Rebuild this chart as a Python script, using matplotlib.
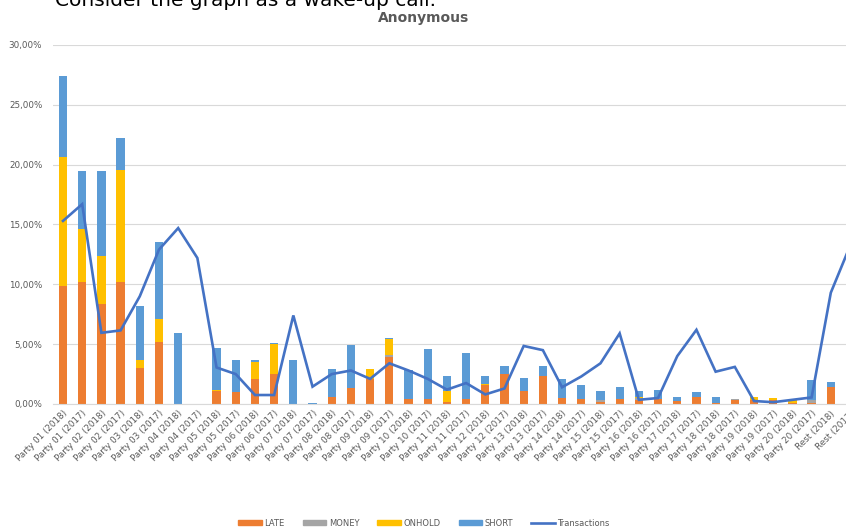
import numpy as np
import matplotlib
matplotlib.use('Agg')
import matplotlib.pyplot as plt
from matplotlib.ticker import FuncFormatter, MultipleLocator
from matplotlib.patches import Patch
from matplotlib.lines import Line2D

# data (shares in %)
parties = ['Party %02d' % i for i in range(1, 21)] + ['Rest']
categories = []
for p in parties:
    categories += [p + ' (2018)', p + ' (2017)']

late = [9.9, 10.2, 8.35, 10.2, 3.05, 5.15, 0.0, 0.0, 1.1, 1.0,
        2.1, 2.5, 0.0, 0.0, 0.6, 1.3, 2.1, 3.9, 0.4, 0.4,
        0.2, 0.4, 1.6, 2.5, 1.1, 2.3, 0.5, 0.4, 0.2, 0.4,
        0.3, 0.4, 0.25, 0.6, 0.1, 0.3, 0.3, 0.3, 0.1, 0.1,
        1.45, 1.2]
money = [0.0, 0.0, 0.0, 0.0, 0.0, 0.0, 0.0, 0.0, 0.0, 0.0,
         0.0, 0.0, 0.0, 0.0, 0.0, 0.0, 0.0, 0.2, 0.0, 0.0,
         0.0, 0.0, 0.0, 0.0, 0.0, 0.0, 0.0, 0.0, 0.1, 0.0,
         0.2, 0.0, 0.0, 0.0, 0.0, 0.1, 0.0, 0.0, 0.0, 0.2,
         0.0, 0.0]
onhold = [10.7, 4.4, 4.05, 9.35, 0.6, 1.95, 0.0, 0.0, 0.1, 0.0,
          1.4, 2.5, 0.0, 0.0, 0.0, 0.0, 0.8, 1.3, 0.0, 0.0,
          0.9, 0.0, 0.1, 0.0, 0.0, 0.0, 0.0, 0.0, 0.0, 0.0,
          0.1, 0.0, 0.0, 0.0, 0.0, 0.0, 0.3, 0.2, 0.2, 0.0,
          0.0, 0.0]
short = [6.8, 4.85, 7.05, 2.65, 4.55, 6.45, 5.9, 0.0, 3.45, 2.7,
         0.15, 0.1, 3.65, 0.1, 2.3, 3.6, 0.0, 0.1, 2.4, 4.2,
         1.2, 3.9, 0.6, 0.7, 1.1, 0.9, 1.6, 1.2, 0.8, 1.0,
         0.5, 0.8, 0.35, 0.4, 0.5, 0.0, 0.0, 0.0, 0.0, 1.7,
         0.35, 0.3]
transactions = [15.3, 16.7, 5.95, 6.15, 9.0, 12.9, 14.7, 12.2, 3.05, 2.5,
                0.75, 0.75, 7.4, 1.45, 2.5, 2.8, 2.1, 3.4, 2.8, 2.1,
                1.2, 1.75, 0.8, 1.3, 4.85, 4.5, 1.4, 2.3, 3.4, 5.9,
                0.35, 0.5, 4.0, 6.2, 2.7, 3.1, 0.25, 0.15, 0.35, 0.55,
                9.3, 13.2]

c_late = '#ED7D31'
c_money = '#A5A5A5'
c_onhold = '#FFC000'
c_short = '#5B9BD5'
c_line = '#4472C4'
txt = '#595959'

fig = plt.figure(figsize=(8.46, 5.29), dpi=100)
# plot area runs past the right edge, like the cropped screenshot
ax = fig.add_axes([53.4 / 846, 125 / 529, 806.2 / 846, 359 / 529])

x = np.arange(len(categories))
w = 0.43
bottom = np.zeros(len(x))
for vals, col in [(late, c_late), (money, c_money), (onhold, c_onhold), (short, c_short)]:
    ax.bar(x, vals, w, bottom=bottom, color=col, zorder=2)
    bottom += np.array(vals)
ax.plot(x, transactions, color=c_line, lw=1.9, zorder=3, solid_joinstyle='miter')

ax.set_xlim(-0.5, len(x) - 0.5)
ax.set_ylim(0, 30)
ax.yaxis.set_major_locator(MultipleLocator(5))
ax.yaxis.set_major_formatter(FuncFormatter(lambda v, p: ('%.2f%%' % v).replace('.', ',')))
ax.grid(axis='y', color='#d9d9d9', lw=0.8, zorder=0)
for s in ['top', 'right', 'left']:
    ax.spines[s].set_visible(False)
ax.spines['bottom'].set_color('#d9d9d9')
ax.tick_params(axis='both', length=0, labelsize=6.3, colors=txt)
ax.tick_params(axis='y', pad=8)
ax.set_xticks(x)
ax.set_xticklabels(categories, rotation=45, ha='right', rotation_mode='anchor')

fig.text(424 / 846, 1 - 18 / 529, 'Anonymous', ha='center', va='center',
         fontsize=10, fontweight='bold', color=txt)
fig.text(55 / 846, 1 - 6 / 529, 'Consider the graph as a wake-up call.', ha='left',
         va='baseline', fontsize=14.5, color='black')

handles = [Patch(color=c_late, label='LATE'),
           Patch(color=c_money, label='MONEY'),
           Patch(color=c_onhold, label='ONHOLD'),
           Patch(color=c_short, label='SHORT'),
           Line2D([], [], color=c_line, lw=1.9, label='Transactions')]
leg = fig.legend(handles=handles, loc='center', bbox_to_anchor=(424 / 846, 1 - 523 / 529),
                 ncol=5, frameon=False, fontsize=6, handlelength=2.8, handleheight=0.45,
                 columnspacing=2.2, handletextpad=0.3)
for t in leg.get_texts():
    t.set_color(txt)

fig.savefig('out.png', dpi=100)
